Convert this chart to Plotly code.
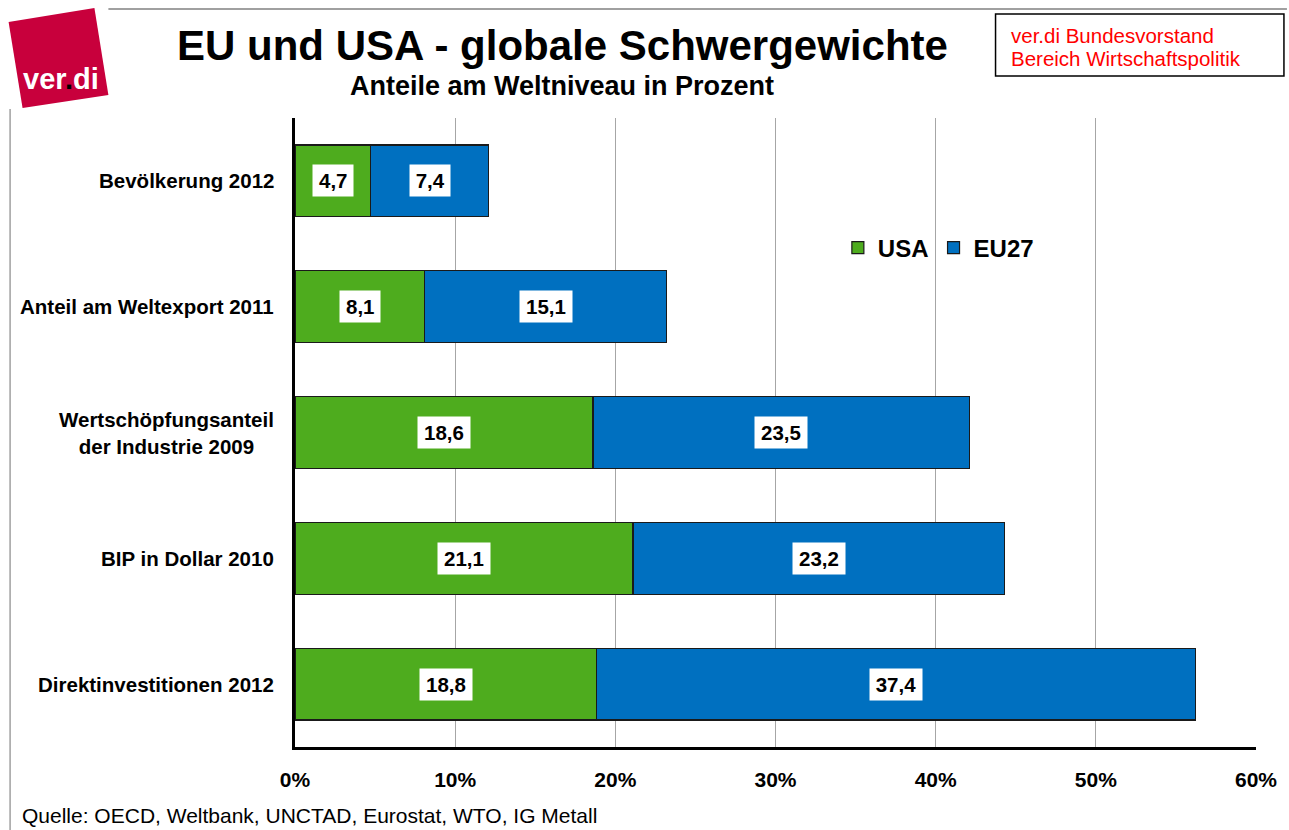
import plotly.graph_objects as go

categories = ["Bevölkerung 2012", "Anteil am Weltexport 2011",
              "Wertschöpfungsanteil<br>der Industrie 2009", "BIP in Dollar 2010",
              "Direktinvestitionen 2012"]
usa = [4.7, 8.1, 18.6, 21.1, 18.8]
eu27 = [7.4, 15.1, 23.5, 23.2, 37.4]
x_ticks = [0, 10, 20, 30, 40, 50, 60]
x_tick_labels = ["0%", "10%", "20%", "30%", "40%", "50%", "60%"]

W, H = 1289, 830
L, R, T, B = 295, 31, 118, 83
PW, PH = W - L - R, H - T - B


def px(x):
    return (x - L) / PW


def py(y):
    return (H - B - y) / PH


GREEN = "#4EAC1E"
BLUE = "#0070C0"
FONT = "Liberation Sans, Arial, sans-serif"
VAL_SIZE = 20.5

fig = go.Figure()
fig.add_trace(go.Bar(y=categories, x=usa, orientation="h", name="USA",
                     marker=dict(color=GREEN, line=dict(color="#1a1a1a", width=1.2))))
fig.add_trace(go.Bar(y=categories, x=eu27, orientation="h", name="EU27",
                     marker=dict(color=BLUE, line=dict(color="#1a1a1a", width=1.2))))


def text_w(s, size):
    w = 0.0
    for ch in s:
        w += 0.278 if ch == "," else 0.556
    return w * size


annotations = []
for c, u, e in zip(categories, usa, eu27):
    for xc, v in ((u / 2, u), (u + e / 2, e)):
        s = f"{v:.1f}".replace(".", ",")
        annotations.append(dict(x=xc, y=c, xref="x", yref="y", showarrow=False,
                                text=s, width=text_w(s, VAL_SIZE) + 8, height=27,
                                font=dict(family=FONT, size=VAL_SIZE, color="black", weight="bold"),
                                bgcolor="white", borderpad=2))
    # category label
    annotations.append(dict(x=px(276), y=c, xref="paper", yref="y", showarrow=False,
                            text=c, xanchor="right", yanchor="middle", align="center",
                            font=dict(family=FONT, size=20.5, color="black", weight="bold")))

# titles
annotations.append(dict(x=px(563), y=py(45), xref="paper", yref="paper", showarrow=False,
                        text="<b>EU und USA - globale Schwergewichte</b>",
                        font=dict(family=FONT, size=42, color="black"),
                        xanchor="center", yanchor="middle"))
annotations.append(dict(x=px(563), y=py(86), xref="paper", yref="paper", showarrow=False,
                        text="<b>Anteile am Weltniveau in Prozent</b>",
                        font=dict(family=FONT, size=27, color="black"),
                        xanchor="center", yanchor="middle"))
# top right box
annotations.append(dict(x=px(1010), y=py(35), xref="paper", yref="paper", showarrow=False,
                        text="ver.di Bundesvorstand",
                        font=dict(family=FONT, size=20.5, color="#FF0000"),
                        xanchor="left", yanchor="middle", align="left"))
annotations.append(dict(x=px(1010), y=py(58), xref="paper", yref="paper", showarrow=False,
                        text="Bereich Wirtschaftspolitik",
                        font=dict(family=FONT, size=20.5, color="#FF0000"),
                        xanchor="left", yanchor="middle", align="left"))
# logo text
annotations.append(dict(x=px(61), y=py(79), xref="paper", yref="paper", showarrow=False,
                        text="<b>ver<span style='color:black'>.</span>di</b>",
                        font=dict(family=FONT, size=29, color="white"),
                        xanchor="center", yanchor="middle"))
# footer
annotations.append(dict(x=px(19), y=py(815), xref="paper", yref="paper", showarrow=False,
                        text="Quelle: OECD, Weltbank, UNCTAD, Eurostat, WTO, IG Metall",
                        font=dict(family=FONT, size=21, color="black"),
                        xanchor="left", yanchor="middle"))

shapes = [
    # logo square (tilted)
    dict(type="path", xref="paper", yref="paper",
         path=f"M {px(8)} {py(22)} L {px(94)} {py(8)} L {px(108)} {py(95)} L {px(22)} {py(108)} Z",
         fillcolor="#C8003C", line=dict(width=0)),
    # top frame line
    dict(type="line", xref="paper", yref="paper", x0=px(108), x1=px(1289), y0=py(9), y1=py(9),
         line=dict(color="#A0A0A0", width=2)),
    # left frame line
    dict(type="line", xref="paper", yref="paper", x0=px(9.5), x1=px(9.5), y0=py(109), y1=py(830),
         line=dict(color="#A0A0A0", width=1.5)),
    # top-right box
    dict(type="rect", xref="paper", yref="paper", x0=px(997), x1=px(1286), y0=py(14), y1=py(76),
         line=dict(color="black", width=1.5), fillcolor="white", layer="below"),
]

fig.update_layout(
    width=W, height=H,
    margin=dict(l=L, r=R, t=T, b=B),
    barmode="stack", bargap=0.43,
    plot_bgcolor="white", paper_bgcolor="white",
    font=dict(family=FONT, color="black"),
    xaxis=dict(range=[0, 60], tickvals=x_ticks, ticktext=x_tick_labels,
               showgrid=True, gridcolor="#A6A6A6", gridwidth=1,
               showline=True, linecolor="black", linewidth=3,
               ticks="", ticklabelstandoff=12,
               tickfont=dict(family=FONT, size=21, color="black", weight="bold"),
               zeroline=False),
    yaxis=dict(autorange="reversed", showgrid=False, showticklabels=False,
               showline=True, linecolor="black", linewidth=3, ticks=""),
    showlegend=True,
    legend=dict(orientation="h", x=px(839), y=py(248), xanchor="left", yanchor="middle",
                font=dict(family=FONT, size=24, color="black", weight="bold"),
                bgcolor="rgba(0,0,0,0)", itemwidth=30, traceorder="normal"),
    annotations=annotations, shapes=shapes,
)

fig.write_html("out.html", config={"displayModeBar": False},
               post_script="document.body.style.margin='0px';document.body.style.overflow='hidden';")
